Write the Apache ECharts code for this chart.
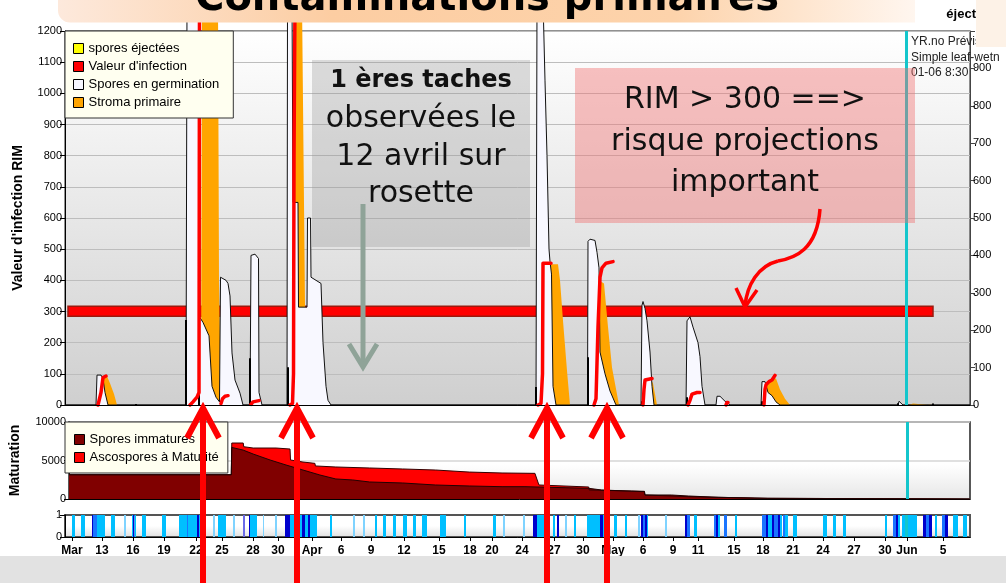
<!DOCTYPE html>
<html>
<head>
<meta charset="utf-8">
<script src="https://cdn.jsdelivr.net/npm/echarts@6/dist/echarts.min.js"></script>
<style>
  html, body { margin: 0; padding: 0; background: #fff; }
  #chart { width: 1006px; height: 583px; }
</style>
</head>
<body>
<div id="chart"></div>
<script>
// x values are days counted from 1 March (Mar 1 = 0, Apr 1 = 31, May 1 = 61, Jun 1 = 92)
const xMin = 8.2
const xMax = 98.7

const xTickPos = [8.9, 11.9, 15.0, 18.1, 21.3, 23.9, 27.0, 29.5, 32.9, 35.8, 38.8, 42.1, 45.6, 48.7, 50.9,
  53.9, 57.1, 60.0, 63.0, 66.0, 69.0, 71.5, 75.1, 78.0, 81.0, 84.0, 87.1, 90.2, 92.4, 96.0]
const xTickText = ['Mar', '13', '16', '19', '22', '25', '28', '30', 'Apr', '6', '9', '12', '15', '18', '20',
  '24', '27', '30', 'May', '6', '9', '11', '15', '18', '21', '24', '27', '30', 'Jun', '5']

// Stroma primaire (left axis, RIM)
const stroma = [
  [12.0, 0], [12.1, 90], [12.4, 92], [12.7, 70], [13.1, 35], [13.4, 0],
  [21.8, 0], [21.9, 1300], [23.5, 1300], [23.6, 400], [23.8, 30], [23.9, 0],
  [31.0, 0], [31.1, 1300], [31.9, 1300], [32.2, 320], [32.4, 0],
  [56.7, 0], [56.8, 452], [57.5, 452], [57.7, 400], [58.0, 270], [58.4, 110], [58.7, 0],
  [61.5, 0], [61.6, 400], [62.1, 390], [62.5, 250], [62.9, 120], [63.6, 0],
  [66.7, 0], [66.8, 80], [67.0, 70], [67.4, 0],
  [78.3, 0], [78.4, 75], [78.9, 85], [79.3, 85], [79.7, 50], [80.2, 20], [80.7, 0],
  [92.6, 0], [92.7, 5], [93.0, 5], [93.1, 0],
  [94.5, 0], [94.6, 5], [94.9, 5], [95.0, 0]
]

// Spores en germination
const germination = [
  [8.2, 0], [11.3, 0], [11.4, 96], [11.8, 96], [12.0, 85], [12.2, 40], [12.5, 0],
  [20.3, 0], [20.4, 1300], [21.6, 1300], [21.7, 280], [22.0, 265], [22.6, 222], [22.9, 60], [23.3, 25], [23.65, 10],
  [23.75, 410], [24.3, 400], [24.5, 390], [24.7, 350], [24.9, 167], [25.2, 80], [25.7, 38], [26.0, 0],
  [26.7, 0], [26.8, 480], [27.2, 484], [27.55, 470], [27.6, 40], [27.9, 0],
  [30.4, 0], [30.45, 1300], [30.9, 1300], [31.0, 650], [31.5, 650], [31.55, 314], [32.4, 314],
  [32.45, 600], [32.75, 600], [32.8, 410], [33.8, 390], [34.0, 200], [34.3, 60], [34.5, 15], [34.8, 0],
  [55.3, 0], [55.4, 1300], [56.0, 1300], [56.2, 1040], [56.4, 800], [56.6, 500], [56.7, 460], [56.85, 420], [57.0, 60], [57.3, 0],
  [60.45, 0], [60.5, 525], [60.7, 532], [61.2, 528], [61.4, 490], [61.6, 440], [61.7, 170], [62.2, 100], [62.7, 45], [63.3, 0],
  [65.8, 0], [65.9, 320], [66.0, 332], [66.2, 310], [66.4, 270], [66.7, 170], [66.9, 60], [67.1, 0],
  [70.3, 0], [70.4, 270], [70.7, 283], [71.0, 250], [71.5, 200], [71.7, 155], [71.9, 60], [72.2, 0],
  [73.3, 0], [73.4, 28], [73.7, 28], [74.2, 12], [74.7, 0],
  [77.8, 0], [77.9, 75], [78.2, 75], [78.4, 70], [78.5, 40], [78.9, 30], [79.3, 10], [79.7, 0],
  [91.5, 0], [91.6, 12], [91.8, 10], [92.0, 0], [98.7, 0]
]

// Valeur d'infection ('-' breaks the line between events)
const infection = [
  [11.5, 0], [11.8, 40], [12.0, 88], [12.1, 93], [12.3, 93], [12.4, '-'],
  [20.7, 0], [21.0, 10], [21.4, 25], [21.6, 40], [21.65, 1300], [21.7, '-'],
  [23.8, 5], [23.95, 20], [24.2, 28], [24.5, 30], [24.6, '-'],
  [26.8, 2], [27.0, 10], [27.2, 14], [27.6, 14], [27.7, '-'],
  [30.7, 0], [30.95, 5], [31.05, 100], [31.1, 800], [31.2, 1300], [31.3, '-'],
  [55.5, 0], [55.8, 5], [55.95, 100], [56.0, 455], [56.8, 455], [56.9, '-'],
  [61.1, 0], [61.3, 20], [61.4, 135], [61.5, 250], [61.7, 410], [61.9, 440], [62.3, 455], [63.0, 460], [63.1, '-'],
  [66.0, 0], [66.1, 50], [66.2, 80], [66.3, 85], [66.9, 85], [67.0, '-'],
  [70.5, 0], [70.7, 15], [70.9, 35], [71.4, 40], [71.7, 40], [71.8, '-'],
  [74.3, 0], [74.4, 8], [74.5, 8], [74.6, '-'],
  [78.1, 0], [78.2, 50], [78.3, 65], [78.6, 75], [78.9, 80], [79.2, 95]
]

// spores éjectées (right axis)
const ejected = [
  [11.4, 3], [15.3, 3], [20.3, 227], [21.6, 120], [26.7, 125], [30.5, 101],
  [55.3, 48], [60.5, 128], [65.9, 10], [70.4, 21], [77.9, 10], [91.5, 5], [95.0, 4]
]

// threshold band drawn over the RIM panel (x from, x to, RIM from, RIM to)
const rimBand = [8.5, 95.0, 285, 317]
// forecast start (Jun 1 8:30)
const forecastDay = 92.35

// Maturation panel
const immature = [
  [8.2, 3150], [24.5, 3150], [24.55, 6700], [25.7, 6350], [26.7, 5840], [28.4, 5065], [30.0, 4415],
  [31.7, 3766], [33.4, 3117], [35.0, 2600], [36.7, 2470], [38.4, 2208], [41.7, 2080], [45.0, 1820],
  [48.4, 1690], [51.7, 1600], [54.0, 1600], [54.05, 1390], [60.4, 1390], [60.45, 1170], [61.7, 1170],
  [61.75, 950], [66.0, 950], [66.05, 520], [68.7, 520], [68.75, 390], [70.4, 390], [70.45, 220],
  [73.4, 220], [73.45, 90], [78.4, 90], [78.45, 0], [98.7, 0]
]
const matureTop = [
  [8.2, 3150], [24.5, 3150], [24.55, 7270], [25.7, 7270], [25.75, 6790], [26.7, 6620], [29.0, 6620],
  [29.05, 6490], [30.4, 6490], [30.45, 5065], [31.7, 4800], [32.9, 4630], [32.95, 4290], [35.0, 4156],
  [38.4, 4026], [41.7, 3900], [45.0, 3766], [48.4, 3500], [51.7, 3377], [55.0, 3330], [55.4, 1820],
  [60.4, 1560], [60.45, 1170], [64.7, 1040], [66.0, 1000], [66.05, 520], [70.4, 300], [70.45, 220],
  [73.4, 220], [73.45, 90], [78.4, 90], [78.45, 0], [98.7, 0]
]

// Leaf wetness strip: [from day, to day, level]
const wetness = [
  [8.9, 9.2, 1], [9.8, 10.2, 1], [10.9, 11.0, 3], [11.0, 11.4, 2], [11.4, 12.2, 1], [12.8, 13.2, 1],
  [14.1, 14.3, 0], [14.9, 15.0, 1], [15.0, 15.15, 3], [15.15, 15.3, 1], [15.9, 16.3, 1], [17.9, 18.3, 1],
  [19.6, 20.4, 1], [20.4, 20.5, 2], [20.5, 21.4, 1], [21.4, 21.6, 3], [21.6, 21.8, 1], [23.0, 23.2, 0],
  [23.5, 24.3, 1], [25.0, 25.2, 0], [26.0, 26.2, 4], [26.6, 26.7, 3], [26.7, 27.4, 1], [28.0, 28.1, 0],
  [29.2, 29.4, 0], [30.2, 30.7, 3], [30.7, 31.9, 1], [31.9, 32.2, 3], [32.2, 32.5, 1], [32.5, 32.7, 3],
  [32.7, 33.4, 1], [34.7, 34.9, 1], [37.0, 37.2, 0], [38.0, 38.2, 0], [39.2, 39.4, 1], [40.0, 40.3, 1],
  [41.0, 41.3, 1], [42.0, 42.4, 1], [43.0, 43.3, 1], [43.9, 44.4, 1], [45.7, 46.3, 1], [48.1, 48.3, 1],
  [51.0, 51.3, 1], [52.0, 52.2, 0], [54.0, 54.2, 0], [55.0, 55.4, 3], [55.4, 56.7, 1], [57.0, 57.2, 1],
  [57.4, 57.6, 3], [58.2, 58.4, 0], [59.1, 59.3, 1], [60.4, 61.7, 1], [61.7, 62.0, 3], [62.0, 62.4, 1],
  [63.1, 63.4, 1], [64.2, 64.4, 1], [65.5, 65.7, 0], [65.8, 66.0, 3], [66.0, 66.2, 2], [66.2, 66.4, 3],
  [66.4, 66.5, 1], [68.2, 68.4, 0], [70.2, 70.4, 3], [70.4, 70.7, 2], [71.1, 71.4, 1], [73.1, 73.3, 2],
  [73.3, 73.5, 3], [73.5, 73.7, 1], [74.1, 74.4, 2], [75.2, 75.4, 1], [77.9, 78.3, 2], [78.3, 78.5, 3],
  [78.5, 78.9, 1], [78.9, 79.1, 3], [79.1, 79.5, 2], [79.5, 79.7, 3], [79.7, 79.9, 1], [80.0, 80.2, 2],
  [80.2, 80.5, 1], [81.0, 81.4, 1], [84.0, 84.4, 1], [85.0, 85.3, 1], [86.0, 86.3, 1], [90.2, 90.4, 1],
  [91.0, 91.3, 2], [91.3, 91.5, 3], [91.5, 91.7, 1], [91.9, 93.4, 1], [94.0, 94.3, 3], [94.3, 94.6, 2],
  [94.6, 94.9, 3], [95.2, 95.4, 1], [95.9, 96.2, 2], [96.2, 96.5, 3], [97.0, 97.5, 1], [98.0, 98.4, 1]
]
const wetnessColors = ['#7fd3ff', '#00bfff', '#1a74ff', '#0000cd', '#6b6be8']

const AX = 'Liberation Sans, Arial, sans-serif'
const SLIDE = 'DejaVu Sans, sans-serif'

function vgrad(stops) {
  return { type: 'linear', x: 0, y: 0, x2: 0, y2: 1, colorStops: stops }
}

function plain(v) {
  return String(v)
}

function xAxisBase(grid) {
  return {
    type: 'value', gridIndex: grid, min: xMin, max: xMax,
    axisLine: { show: true, lineStyle: { color: '#000', width: 1 } },
    axisTick: { show: false }, axisLabel: { show: false }, splitLine: { show: false }
  }
}

function nowLine(color) {
  return {
    symbol: 'none', silent: true, animation: false,
    label: { show: false },
    lineStyle: { color: color, width: 3, type: 'solid' },
    data: [{ xAxis: forecastDay }]
  }
}

function redArrow(x) {
  return [
    { type: 'line', z: 100, shape: { x1: x, y1: 590, x2: x, y2: 412 }, style: { stroke: '#ff0000', lineWidth: 6 } },
    { type: 'polyline', z: 100, shape: { points: [[x - 16, 438], [x, 408], [x + 16, 438]] },
      style: { stroke: '#ff0000', lineWidth: 6, fill: null, lineJoin: 'miter' } }
  ]
}

const chart = echarts.init(document.getElementById('chart'))

const option = {
  animation: false,
  backgroundColor: '#ffffff',
  textStyle: { fontFamily: AX },
  grid: [
    { left: 65, right: 36, top: 31, height: 374, show: true, borderColor: '#222', borderWidth: 1,
      backgroundColor: vgrad([{ offset: 0, color: '#ffffff' }, { offset: 1, color: '#cfcfcf' }]) },
    { left: 65, right: 36, top: 422, height: 77, show: true, borderColor: '#222', borderWidth: 1.5,
      backgroundColor: vgrad([{ offset: 0, color: '#ffffff' }, { offset: 0.55, color: '#ffffff' }, { offset: 1, color: '#e6e6e6' }]) },
    { left: 65, right: 36, top: 515, height: 22, show: true, borderColor: '#555', borderWidth: 2,
      backgroundColor: vgrad([{ offset: 0, color: '#ffffff' }, { offset: 0.5, color: '#ffffff' }, { offset: 1, color: '#dedede' }]) }
  ],
  legend: [
    {
      left: 65, top: 31, orient: 'vertical', selectedMode: false,
      backgroundColor: '#fffff0', borderColor: '#333', borderWidth: 1,
      padding: [11, 14, 9, 8], itemGap: 5, itemWidth: 10, itemHeight: 10, icon: 'rect',
      textStyle: { fontFamily: AX, fontSize: 13, color: '#000' },
      data: [
        { name: 'spores éjectées', itemStyle: { color: '#ffff00', borderColor: '#000', borderWidth: 1 } },
        { name: "Valeur d'infection", itemStyle: { color: '#ff0000', borderColor: '#000', borderWidth: 1 } },
        { name: 'Spores en germination', itemStyle: { color: '#f8f8ff', borderColor: '#000', borderWidth: 1 } },
        { name: 'Stroma primaire', itemStyle: { color: '#ffa500', borderColor: '#000', borderWidth: 1 } }
      ]
    },
    {
      left: 65, top: 422, orient: 'vertical', selectedMode: false,
      backgroundColor: '#fffff0', borderColor: '#333', borderWidth: 1,
      padding: [11, 9, 9, 9], itemGap: 5, itemWidth: 10, itemHeight: 10, icon: 'rect',
      textStyle: { fontFamily: AX, fontSize: 13, color: '#000' },
      data: [
        { name: 'Spores immatures', itemStyle: { color: '#800000', borderColor: '#000', borderWidth: 1 } },
        { name: 'Ascospores à Maturité', itemStyle: { color: '#ff0000', borderColor: '#000', borderWidth: 1 } }
      ]
    }
  ],
  xAxis: [
    xAxisBase(0),
    xAxisBase(1),
    Object.assign(xAxisBase(2), {
      axisTick: { show: true, customValues: xTickPos, length: 4, lineStyle: { color: '#000' } },
      axisLabel: {
        show: true, customValues: xTickPos, margin: 8,
        fontFamily: AX, fontSize: 12, fontWeight: 'bold', color: '#000',
        formatter: function (v) {
          const i = xTickPos.findIndex(p => Math.abs(p - v) < 1e-6)
          return i >= 0 ? xTickText[i] : ''
        }
      }
    }),
    Object.assign(xAxisBase(0), { position: 'top', z: 6 })
  ],
  yAxis: [
    {
      type: 'value', gridIndex: 0, min: 0, max: 1200, interval: 100,
      name: "Valeur d'infection RIM", nameLocation: 'middle', nameGap: 40,
      nameTextStyle: { fontFamily: AX, fontSize: 14, fontWeight: 'bold', color: '#000' },
      axisLine: { show: true, lineStyle: { color: '#000' } },
      axisTick: { show: true, length: 5, lineStyle: { color: '#000' } },
      axisLabel: { fontSize: 11, color: '#000', margin: 3, fontFamily: AX, formatter: plain },
      splitLine: { show: true, lineStyle: { color: '#bdbdbd', width: 1 } }
    },
    {
      type: 'value', gridIndex: 0, min: 0, max: 1000, interval: 100, position: 'right',
      axisLine: { show: true, lineStyle: { color: '#444' } },
      axisTick: { show: true, length: 5, lineStyle: { color: '#444' } },
      axisLabel: { fontSize: 11, color: '#000', margin: 3, fontFamily: AX,
        formatter: v => (v >= 1000 ? '' : String(v)) },
      splitLine: { show: false }
    },
    {
      type: 'value', gridIndex: 1, min: 0, max: 10000, interval: 5000,
      name: 'Maturation', nameLocation: 'middle', nameGap: 47,
      nameTextStyle: { fontFamily: AX, fontSize: 14, fontWeight: 'bold', color: '#000' },
      axisLine: { show: true, lineStyle: { color: '#000' } },
      axisTick: { show: true, length: 5, lineStyle: { color: '#000' } },
      axisLabel: { fontSize: 11, color: '#000', margin: 3, fontFamily: AX, formatter: plain },
      splitLine: { show: true, lineStyle: { color: '#d6d6d6', width: 1.5 } }
    },
    {
      type: 'value', gridIndex: 2, min: 0, max: 1, interval: 1,
      axisLine: { show: true, lineStyle: { color: '#000' } },
      axisTick: { show: true, length: 5, lineStyle: { color: '#000' } },
      axisLabel: { fontSize: 11, color: '#000', margin: 3, fontFamily: AX, formatter: plain },
      splitLine: { show: false }
    }
  ],
  series: [
    {
      name: 'Stroma primaire', type: 'line', xAxisIndex: 0, yAxisIndex: 0, z: 2, clip: false,
      data: stroma, symbol: 'none', color: '#ffa500',
      lineStyle: { width: 0 }, areaStyle: { color: '#ffa500', opacity: 1 }
    },
    {
      name: 'Spores en germination', type: 'line', xAxisIndex: 0, yAxisIndex: 0, z: 2, clip: false,
      data: germination, symbol: 'none', color: '#f8f8ff',
      lineStyle: { width: 1, color: '#111' }, areaStyle: { color: '#f8f8ff', opacity: 1 }
    },
    {
      name: 'spores éjectées', type: 'bar', xAxisIndex: 0, yAxisIndex: 1, z: 3,
      data: ejected, barWidth: 2, itemStyle: { color: '#000' }
    },
    {
      name: "Valeur d'infection", type: 'line', xAxisIndex: 0, yAxisIndex: 0, z: 3, clip: false,
      data: infection, symbol: 'none', color: '#ff0000', connectNulls: false,
      lineStyle: { width: 3.5, color: '#ff0000', join: 'round', cap: 'round' },
      markArea: {
        silent: true,
        itemStyle: { color: '#ff0000', borderColor: '#9c1a0e', borderWidth: 1.5, opacity: 1 },
        data: [[{ xAxis: rimBand[0], yAxis: rimBand[2] }, { xAxis: rimBand[1], yAxis: rimBand[3] }]]
      }
    },
    {
      name: 'now0', type: 'line', xAxisIndex: 0, yAxisIndex: 0, z: 3.5, data: [],
      markLine: nowLine('#14c6cc')
    },
    {
      name: 'Ascospores à Maturité', type: 'line', xAxisIndex: 1, yAxisIndex: 2, z: 2,
      data: matureTop, symbol: 'none', color: '#ff0000',
      lineStyle: { width: 1, color: '#300' }, areaStyle: { color: '#ff0000', opacity: 1 },
      markLine: nowLine('#14c6cc')
    },
    {
      name: 'Spores immatures', type: 'line', xAxisIndex: 1, yAxisIndex: 2, z: 2,
      data: immature, symbol: 'none', color: '#800000',
      lineStyle: { width: 1, color: '#200' }, areaStyle: { color: '#800000', opacity: 1 }
    },
    {
      name: 'Humectation', type: 'custom', xAxisIndex: 2, yAxisIndex: 3, z: 2,
      data: wetness,
      encode: { x: [0, 1], y: 2 },
      renderItem: function (params, api) {
        const a = api.coord([api.value(0), 1])
        const b = api.coord([api.value(1), 0])
        return {
          type: 'rect',
          shape: { x: a[0], y: a[1], width: Math.max(1, b[0] - a[0]), height: b[1] - a[1] },
          style: { fill: wetnessColors[api.value(2)] }
        }
      },
      markLine: nowLine('#14c6cc')
    }
  ],
  graphic: [
    // bottom slide band
    { type: 'rect', z: 90, shape: { x: 0, y: 556, width: 1006, height: 27 }, style: { fill: '#e2e2e2' } },
    // title banner
    { type: 'rect', z: 100, shape: { x: 58, y: -12, width: 857, height: 34.5, r: [0, 0, 0, 12] },
      style: { fill: { type: 'linear', x: 0, y: 0, x2: 1, y2: 0, colorStops: [
        { offset: 0, color: '#fde9dc' }, { offset: 0.32, color: '#fccda2' },
        { offset: 0.72, color: '#fdd3ab' }, { offset: 1, color: '#fff6ef' }] } } },
    { type: 'text', z: 101, style: { text: 'Contaminations primaires', x: 487, y: 0,
      font: 'bold 40px ' + SLIDE, fill: '#000', align: 'center', verticalAlign: 'middle' } },
    { type: 'rect', z: 100, shape: { x: 976, y: 0, width: 30, height: 47 }, style: { fill: '#fdf2e7' } },
    { type: 'text', z: 101, style: { text: 'éject', x: 976, y: 14, font: 'bold 13px ' + AX, fill: '#000',
      align: 'right', verticalAlign: 'middle' } },
    // forecast note
    { type: 'text', z: 99, style: { text: 'YR.no Prévis\nSimple leaf-wetn\n01-06 8:30', x: 911, y: 34,
      font: '12px ' + AX, fill: '#222', lineHeight: 15.5, align: 'left', verticalAlign: 'top' } },
    // grey note box
    { type: 'rect', z: 100, shape: { x: 312, y: 60, width: 218, height: 187 }, style: { fill: 'rgba(150,150,150,0.32)' } },
    { type: 'text', z: 101, style: { text: '1 ères taches', x: 421, y: 81, font: 'bold 24px ' + SLIDE,
      fill: '#111', align: 'center', verticalAlign: 'middle' } },
    { type: 'text', z: 101, style: { text: 'observées le', x: 421, y: 119, font: '30px ' + SLIDE,
      fill: '#111', align: 'center', verticalAlign: 'middle' } },
    { type: 'text', z: 101, style: { text: '12 avril sur', x: 421, y: 157, font: '30px ' + SLIDE,
      fill: '#111', align: 'center', verticalAlign: 'middle' } },
    { type: 'text', z: 101, style: { text: 'rosette', x: 421, y: 194, font: '30px ' + SLIDE,
      fill: '#111', align: 'center', verticalAlign: 'middle' } },
    { type: 'line', z: 102, shape: { x1: 363, y1: 204, x2: 363, y2: 364 }, style: { stroke: '#8fa398', lineWidth: 5 } },
    { type: 'polyline', z: 102, shape: { points: [[349, 344], [363, 367], [377, 344]] },
      style: { stroke: '#8fa398', lineWidth: 5, fill: null } },
    // pink note box
    { type: 'rect', z: 100, shape: { x: 575, y: 68, width: 340, height: 155 }, style: { fill: 'rgba(240,110,110,0.42)' } },
    { type: 'text', z: 101, style: { text: 'RIM > 300 ==>', x: 745, y: 100, font: '30px ' + SLIDE,
      fill: '#111', align: 'center', verticalAlign: 'middle' } },
    { type: 'text', z: 101, style: { text: 'risque projections', x: 745, y: 142, font: '30px ' + SLIDE,
      fill: '#111', align: 'center', verticalAlign: 'middle' } },
    { type: 'text', z: 101, style: { text: 'important', x: 745, y: 183, font: '30px ' + SLIDE,
      fill: '#111', align: 'center', verticalAlign: 'middle' } },
    { type: 'bezierCurve', z: 102, shape: { x1: 820, y1: 209, cpx1: 817, cpy1: 250, cpx2: 795, cpy2: 258, x2: 778, y2: 261 },
      style: { stroke: '#ff0000', lineWidth: 3.5, fill: null } },
    { type: 'bezierCurve', z: 102, shape: { x1: 778, y1: 261, cpx1: 758, cpy1: 266, cpx2: 747, cpy2: 285, x2: 745, y2: 306 },
      style: { stroke: '#ff0000', lineWidth: 3.5, fill: null } },
    { type: 'polyline', z: 102, shape: { points: [[736, 288], [745, 307], [757, 290]] },
      style: { stroke: '#ff0000', lineWidth: 3.5, fill: null } }
  ].concat(redArrow(203), redArrow(297), redArrow(547), redArrow(607))
}

chart.setOption(option)
</script>
</body>
</html>
